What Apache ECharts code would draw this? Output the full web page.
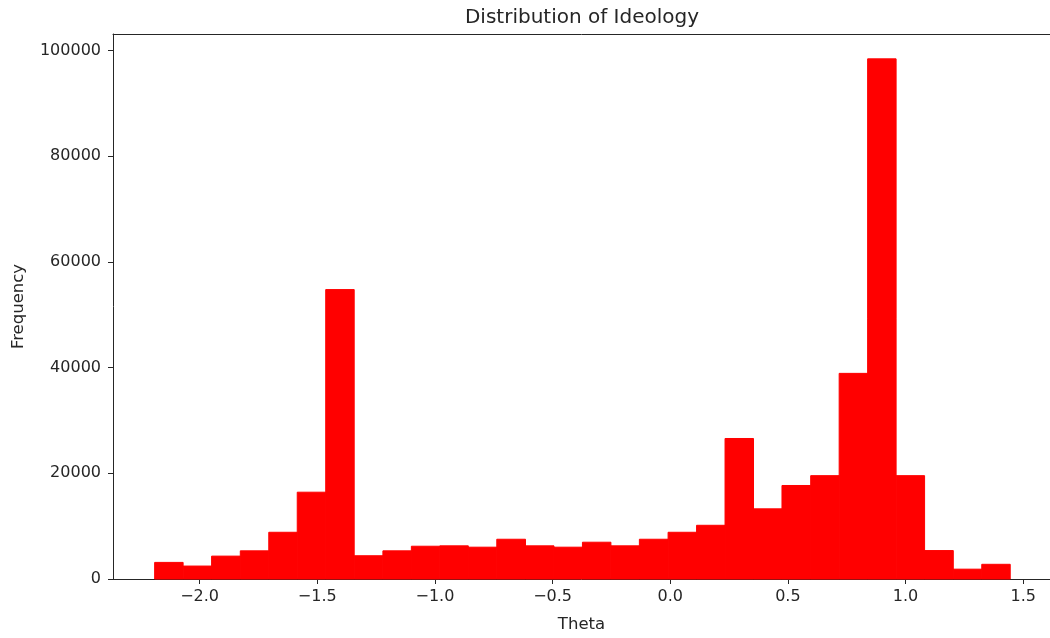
<!DOCTYPE html>
<html>
<head>
<meta charset="utf-8">
<script src="https://cdn.jsdelivr.net/npm/echarts@6/dist/echarts.min.js"></script>
<style>
  html, body { margin: 0; padding: 0; background: #fff; }
  #chart { width: 1050px; height: 638px; }
</style>
</head>
<body>
<div id="chart"></div>
<script>
// histogram bin edges (theta)
const BIN_EDGES = [
  -2.191, -2.070, -1.949, -1.827, -1.706, -1.585, -1.464, -1.343, -1.221, -1.100,
  -0.979, -0.858, -0.737, -0.615, -0.494, -0.373, -0.252, -0.131, -0.009, 0.112,
  0.233, 0.354, 0.475, 0.597, 0.718, 0.839, 0.960, 1.081, 1.203, 1.324, 1.445
];

// frequency per bin
const COUNTS = [
  3140, 2450, 4330, 5330, 8840, 16420, 54750, 4400, 5330, 6200,
  6270, 6020, 7520, 6270, 6020, 6960, 6270, 7520, 8840, 10160,
  26580, 13270, 17690, 19550, 38900, 98400, 19550, 5380, 1860, 2780
];

const X_TICKS = [-2.0, -1.5, -1.0, -0.5, 0.0, 0.5, 1.0, 1.5];
const Y_TICKS = [0, 20000, 40000, 60000, 80000, 100000];

// the original figure is cut off on the right, just before the right spine
const X_MIN = -2.368;
const X_MAX = 1.614;
const Y_MAX = 103100;

const FONT = "DejaVu Sans";
const INK = "#262626";

const bins = COUNTS.map((count, i) => [BIN_EDGES[i], BIN_EDGES[i + 1], count]);

const chart = echarts.init(document.getElementById("chart"), null, { renderer: "canvas" });

const tickLabel = {
  fontFamily: FONT,
  fontSize: 16,
  color: INK,
};

chart.setOption({
  backgroundColor: "#ffffff",
  animation: false,
  title: {
    text: "Distribution of Ideology",
    left: 582,
    top: 8,
    padding: 0,
    textAlign: "center",
    textStyle: { fontFamily: FONT, fontSize: 20, fontWeight: "normal", color: INK },
  },
  grid: {
    left: 113,
    right: 0,
    top: 34,
    bottom: 55,
    containLabel: false,
  },
  xAxis: [
    {
      type: "value",
      min: X_MIN,
      max: X_MAX,
      name: "Theta",
      nameLocation: "middle",
      nameGap: 37,
      nameTextStyle: { fontFamily: FONT, fontSize: 16.5, color: INK },
      splitLine: { show: false },
      axisLine: { show: true, onZero: false, lineStyle: { color: INK, width: 1 } },
      axisTick: { show: true, length: 5, customValues: X_TICKS, lineStyle: { color: INK } },
      axisLabel: {
        ...tickLabel,
        customValues: X_TICKS,
        margin: 10,
        formatter: (v) => v.toFixed(1).replace("-", "\u2212"),
      },
    },
    {
      // top spine only
      type: "value",
      position: "top",
      min: X_MIN,
      max: X_MAX,
      splitLine: { show: false },
      axisLine: { show: true, onZero: false, lineStyle: { color: INK, width: 1 } },
      axisTick: { show: false },
      axisLabel: { show: false },
    },
  ],
  yAxis: {
    type: "value",
    min: 0,
    max: Y_MAX,
    name: "Frequency",
    nameLocation: "middle",
    nameGap: 86,
    nameTextStyle: { fontFamily: FONT, fontSize: 16.5, color: INK },
    splitLine: { show: false },
    axisLine: { show: true, onZero: false, lineStyle: { color: INK, width: 1 } },
    axisTick: { show: true, length: 5, customValues: Y_TICKS, lineStyle: { color: INK } },
    axisLabel: {
      ...tickLabel,
      customValues: Y_TICKS,
      margin: 12,
      formatter: (v) => String(v),
    },
  },
  series: [
    {
      type: "custom",
      data: bins,
      encode: { x: [0, 1], y: 2 },
      z: 1,
      renderItem(params, api) {
        const left = api.coord([api.value(0), api.value(2)]);
        const right = api.coord([api.value(1), 0]);
        return {
          type: "rect",
          shape: { x: left[0], y: left[1], width: right[0] - left[0], height: right[1] - left[1] },
          style: { fill: "#ff0000", stroke: "#ff0000", lineWidth: 1 },
        };
      },
    },
  ],
});
</script>
</body>
</html>
